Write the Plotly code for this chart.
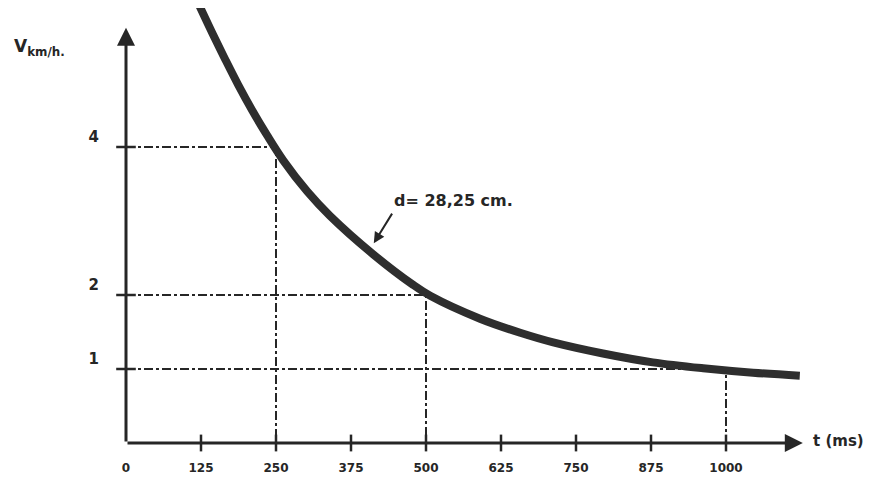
import plotly.graph_objects as go

# ---- data ----
curve_t = [120, 145, 165, 187, 210, 235, 262, 302, 340, 412, 478, 507, 590, 657, 712, 795, 878, 962, 1045, 1123]
curve_v = [5.95, 5.52, 5.19, 4.84, 4.50, 4.16, 3.82, 3.40, 3.07, 2.55, 2.14, 1.99, 1.68, 1.49, 1.36, 1.21, 1.09, 1.01, 0.95, 0.91]

x_ticks = [0, 125, 250, 375, 500, 625, 750, 875, 1000]
x_ticklabels = ["0", "125", "250", "375", "500", "625", "750", "875", "1000"]
y_ticks = [1, 2, 4]
y_ticklabels = ["1", "2", "4"]

guide_t = [250, 500, 1000]
guide_v = [4, 2, 1]

curve_label = "d= 28,25 cm."
x_title = "t (ms)"
y_title = "V<sub>km/h.</sub>"

INK = "#262626"
FONT = "DejaVu Sans"

fig = go.Figure()

# dash-dot guide lines
gx, gy = [], []
for t, v in zip(guide_t, guide_v):
    gx += [0, t, t, None]
    gy += [v, v, 0, None]
fig.add_trace(go.Scatter(x=gx, y=gy, mode="lines",
                         line=dict(color=INK, width=2, dash="dashdot"),
                         hoverinfo="skip", showlegend=False))

# the curve
fig.add_trace(go.Scatter(x=curve_t, y=curve_v, mode="lines",
                         line=dict(color="#2e2e2e", width=8, shape="spline", smoothing=1.0),
                         showlegend=False))

# tick marks crossing the axes
fig.add_trace(go.Scatter(x=x_ticks[1:], y=[0] * (len(x_ticks) - 1), mode="markers",
                         marker=dict(symbol="line-ns", size=12, line=dict(color=INK, width=2.5)),
                         hoverinfo="skip", showlegend=False, cliponaxis=False))
fig.add_trace(go.Scatter(x=[0] * len(y_ticks), y=y_ticks, mode="markers",
                         marker=dict(symbol="line-ew", size=14, line=dict(color=INK, width=2.5)),
                         hoverinfo="skip", showlegend=False, cliponaxis=False))

# axis lines with arrow heads
fig.add_annotation(x=0, y=5.61, ax=0, ay=0, xref="x", yref="y", axref="x", ayref="y",
                   text="", showarrow=True, arrowhead=2, arrowsize=1.2, arrowwidth=3,
                   arrowcolor=INK, standoff=0, startstandoff=0)
fig.add_annotation(x=1128, y=0, ax=0, ay=0, xref="x", yref="y", axref="x", ayref="y",
                   text="", showarrow=True, arrowhead=2, arrowsize=1.2, arrowwidth=3,
                   arrowcolor=INK, standoff=0, startstandoff=0)

# curve label with arrow
fig.add_annotation(x=443, y=3.28, xref="x", yref="y", text=curve_label, showarrow=False,
                   xanchor="left", yanchor="middle",
                   font=dict(family=FONT, size=16, color=INK, weight="bold"))
fig.add_annotation(x=413, y=2.70, ax=445, ay=3.12, xref="x", yref="y", axref="x", ayref="y",
                   text="", showarrow=True, arrowhead=2, arrowsize=1.1, arrowwidth=2,
                   arrowcolor=INK, standoff=0)

# axis titles
fig.add_annotation(x=1142, y=0.03, xref="x", yref="y", text=x_title, showarrow=False,
                   xanchor="left", yanchor="middle",
                   font=dict(family=FONT, size=15, color=INK, weight="bold"))
fig.add_annotation(x=-0.152, y=0.91, xref="paper", yref="paper", text=y_title, showarrow=False,
                   xanchor="left", yanchor="middle",
                   font=dict(family=FONT, size=17, color=INK, weight="bold"))

fig.update_xaxes(range=[0, 749 / 0.6], showgrid=False, zeroline=False, showline=False,
                 tickmode="array", tickvals=x_ticks, ticktext=x_ticklabels, ticks="",
                 ticklabelstandoff=16,
                 tickfont=dict(family=FONT, size=12, color=INK, weight="bold"))
fig.update_yaxes(range=[0, 435 / 74], showgrid=False, zeroline=False, showline=False,
                 tickmode="array", tickvals=y_ticks, ticktext=y_ticklabels, ticks="",
                 ticklabelstandoff=26, ticklabelshift=-10,
                 tickfont=dict(family=FONT, size=15, color=INK, weight="bold"))

fig.update_layout(width=867, height=476, margin=dict(l=118, r=0, t=0, b=41),
                  paper_bgcolor="white", plot_bgcolor="white", showlegend=False)

fig.write_html("out.html")
